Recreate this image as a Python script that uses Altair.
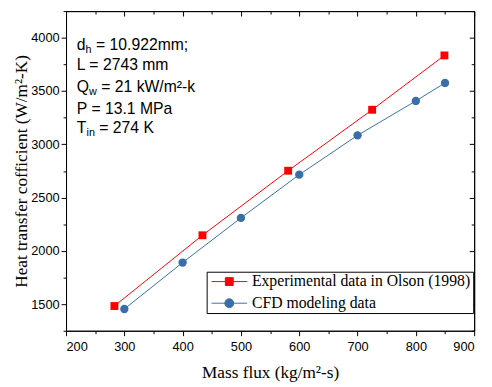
import altair as alt
import pandas as pd

exp_label = "Experimental data in Olson (1998)"
cfd_label = "CFD modeling data"

exp_flux = [283, 434, 581, 725, 849]
exp_htc = [1482, 2146, 2752, 3324, 3834]
cfd_flux = [300, 400, 500, 600, 700, 800, 850]
cfd_htc = [1454, 1890, 2309, 2715, 3084, 3407, 3576]

x_ticks = list(range(200, 901, 50))
y_ticks = list(range(1250, 4251, 250))

red = "#ff0000"
blue = "#3a6ea8"

exp_df = pd.DataFrame({"flux": exp_flux, "htc": exp_htc, "series": exp_label})
cfd_df = pd.DataFrame({"flux": cfd_flux, "htc": cfd_htc, "series": cfd_label})
all_df = pd.concat([exp_df, cfd_df], ignore_index=True)

xs = alt.Scale(domain=[200, 900], nice=False, zero=False)
ys = alt.Scale(domain=[1250, 4250], nice=False, zero=False)

axis_common = dict(
    grid=False, domainColor="black", tickColor="black", labelColor="black",
    labelFont="Liberation Sans", labelFontSize=13, titleFont="Liberation Serif",
    titleFontSize=17.5, titleFontWeight="normal", titleColor="black",
    domainWidth=1, tickWidth=1, format="d",
)

x_axis = alt.Axis(
    orient="bottom", values=x_ticks,
    labelExpr="datum.value % 100 === 0 ? datum.label : ''",
    tickSize={"condition": {"test": "datum.value % 100 === 0", "value": 5}, "value": 3},
    title="Mass flux (kg/m²-s)", titlePadding=11, labelPadding=5, **axis_common,
)
y_axis = alt.Axis(
    orient="left", values=y_ticks,
    labelExpr="datum.value % 500 === 0 ? datum.label : ''",
    tickSize={"condition": {"test": "datum.value % 500 === 0", "value": 5}, "value": 3},
    title="Heat transfer cofficient (W/m²-K)", titlePadding=0, labelPadding=2, **axis_common,
)
x_top = alt.Axis(
    orient="top", values=x_ticks, labels=False, title=None, grid=False,
    domainColor="black", tickColor="black",
    tickSize={"condition": {"test": "datum.value % 100 === 0", "value": -5}, "value": -3},
)
y_right = alt.Axis(
    orient="right", values=y_ticks, labels=False, title=None, grid=False,
    domainColor="black", tickColor="black",
    tickSize={"condition": {"test": "datum.value % 500 === 0", "value": -5}, "value": -3},
)

X = alt.X("flux:Q", scale=xs, axis=None)
Y = alt.Y("htc:Q", scale=ys, axis=None)

# layer carrying the main (bottom/left) axes
exp_line = alt.Chart(exp_df).mark_line(color=red, strokeWidth=1).encode(
    x=alt.X("flux:Q", scale=xs, axis=x_axis),
    y=alt.Y("htc:Q", scale=ys, axis=y_axis),
)
# layer carrying the mirrored (top/right) axes
mirror = alt.Chart(cfd_df).mark_line(color=blue, strokeWidth=1).encode(
    x=alt.X("flux:Q", scale=xs, axis=x_top),
    y=alt.Y("htc:Q", scale=ys, axis=y_right),
)
exp_pts = alt.Chart(exp_df).mark_square(color=red, size=64, opacity=1).encode(x=X, y=Y)
cfd_pts = alt.Chart(cfd_df).mark_circle(color=blue, size=72, opacity=1).encode(x=X, y=Y)

sq_path = "M-3.6,0H3.6M-0.8,-0.8H0.8V0.8H-0.8Z"
ci_path = "M-3.6,0H3.6M0.9,0A0.9,0.9,0,1,1,-0.9,0A0.9,0.9,0,1,1,0.9,0Z"
dom = [exp_label, cfd_label]
leg = alt.Legend(
    title=None, orient="none", legendX=143, legendY=265,
    labelFont="Liberation Serif", labelFontSize=16, labelColor="black",
    strokeColor="black", fillColor="white", padding=2, rowPadding=6,
    symbolOffset=13, labelOffset=15, symbolSize=100, symbolStrokeWidth=1,
    symbolOpacity=1, labelLimit=400,
)
legend_layer = alt.Chart(all_df).mark_point(filled=True, opacity=0, size=100).encode(
    x=X, y=Y,
    fill=alt.Fill("series:N", scale=alt.Scale(domain=dom, range=[red, blue]), legend=leg),
    stroke=alt.Stroke("series:N", scale=alt.Scale(domain=dom, range=[red, blue]), legend=leg),
    shape=alt.Shape("series:N", scale=alt.Scale(domain=dom, range=[sq_path, ci_path]), legend=leg),
)

# annotation segments: (text, x, y, fontsize)
ann = [
    ("d", 11, 34.7, 16), ("h", 19.9, 39.7, 11), ("= 10.922mm;", 30.5, 34.7, 16),
    ("L = 2743 mm", 11, 55.3, 16),
    ("Q", 11, 77, 16), ("w", 23.45, 82, 11), ("= 21 kW/m²-k", 35.8, 77, 16),
    ("P = 13.1 MPa", 11, 99.3, 16),
    ("T", 11, 118.7, 16), ("in", 20.8, 123.7, 11), ("= 274 K", 33.8, 118.7, 16),
]
ann_layers = []
for t, px, py, fs in ann:
    ann_layers.append(
        alt.Chart(pd.DataFrame({"t": [t]})).mark_text(
            align="left", baseline="middle", font="Liberation Sans", fontSize=fs, color="black"
        ).encode(text="t:N", x=alt.value(px), y=alt.value(py))
    )

chart = alt.layer(
    exp_line, mirror, exp_pts, cfd_pts, legend_layer, *ann_layers
).resolve_axis(x="independent", y="independent").properties(
    width=415, height=325,
    autosize=alt.AutoSizeParams(type="none"),
    padding={"left": 59, "top": 0, "right": 10, "bottom": 52},
).configure_view(stroke="black", strokeWidth=1).configure_legend(
    labelFont="Liberation Serif", labelFontSize=16, labelColor="black"
)

chart.save("out.html", embed_options={"renderer": "svg", "actions": False})
